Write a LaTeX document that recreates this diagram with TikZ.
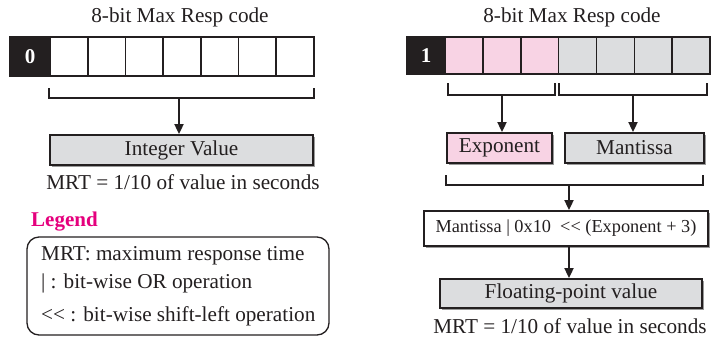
\documentclass[tikz,border=0pt]{standalone}
\usepackage{fontspec}
\setmainfont{Liberation Serif}
\usetikzlibrary{arrows.meta,shadows,calc}
\definecolor{linec}{HTML}{231F20}
\definecolor{pinkf}{HTML}{F8D3E4}
\definecolor{grayf}{HTML}{DCDDDF}
\definecolor{legc}{HTML}{E5007D}
\definecolor{shadc}{HTML}{9A9A9A}
\newcommand{\shl}{{<}{<}}
\tikzset{
  txt/.style={font=\fontsize{21.2}{23}\selectfont, text=linec, inner sep=0pt},
  cellbox/.style={draw=linec, line width=1.6pt, minimum height=39pt, inner sep=0pt},
  blackcell/.style={cellbox, fill=linec, text=white, font=\fontsize{21}{23}\selectfont\bfseries},
  valbox/.style={draw=linec, line width=1.8pt, inner sep=0pt, font=\fontsize{21.2}{23}\selectfont, text=linec,
     general shadow={shadow xshift=2pt, shadow yshift=-2pt, fill=shadc}},
  brk/.style={draw=linec, line width=1.1pt},
  arr/.style={draw=linec, line width=1.8pt, -{Triangle[length=10pt,width=9pt]}},
}
\begin{document}
\begin{tikzpicture}[x=1pt,y=-1pt]
\useasboundingbox (0,0) rectangle (717,338);
% ---------- left ----------
\node[txt] (ltitle) at (180,17) {8-bit Max Resp code};
\node[blackcell, minimum width=40pt, minimum height=39pt] (l0) at (30,56.5) {0};
\foreach \i in {1,...,7} {
  \node[cellbox, fill=white, minimum width=37.71pt] (l\i) at ({50+37.71*(\i-0.5)},56.5) {};
}
\draw[brk] (49,88) -- (49,98) -- (314,98) -- (314,88);
\coordinate (lb) at (179,98.5);
\node[valbox, fill=grayf, minimum width=263pt, minimum height=30pt] (intv) at (181.5,150) {Integer Value};
\draw[arr] (lb) -- (lb |- intv.north);
\node[txt] (lmrt) at (183,182) {MRT = 1/10 of value in seconds};
% legend
\node[txt, anchor=west, text=legc, font=\fontsize{21}{23}\selectfont\bfseries] (leg) at (31,222) {Legend};
\draw[linec, line width=1.3pt, rounded corners=12pt] (27,237) rectangle (329,335);
\node[txt, anchor=west] (lg1) at (41,256) {MRT: maximum response time};
\node[txt, anchor=west] (lg2) at (41,283) {| : bit-wise OR operation};
\node[txt, anchor=west] (lg3) at (41,316) {\shl{} : bit-wise shift-left operation};
% ---------- right ----------
\node[txt] (rtitle) at (572,17) {8-bit Max Resp code};
\node[blackcell, minimum width=38pt, minimum height=37pt] (r0) at (426,55.5) {1};
\foreach \i in {1,2,3} {
  \node[cellbox, fill=pinkf, minimum width=37.86pt, minimum height=37pt] (r\i) at ({445+37.86*(\i-0.5)},55.5) {};
}
\foreach \i in {4,...,7} {
  \node[cellbox, fill=grayf, minimum width=37.86pt, minimum height=37pt] (r\i) at ({445+37.86*(\i-0.5)},55.5) {};
}
\draw[brk] (448,83) -- (448,95) -- (555,95) -- (555,83);
\draw[brk] (559,83) -- (559,95) -- (707,95) -- (707,83);
\coordinate (eb) at (502,95.5);
\coordinate (mb) at (633,95.5);
\node[valbox, fill=pinkf, minimum width=105pt, minimum height=30pt] (expo) at (499.5,148) {Exponent};
\node[valbox, fill=grayf, minimum width=139pt, minimum height=30pt] (mant) at (634.5,148) {Mantissa};
\draw[arr] (eb) -- (eb |- expo.north);
\draw[arr] (mb) -- (mb |- mant.north);
\draw[brk] (446,175) -- (446,185) -- (703,185) -- (703,175);
\coordinate (fb) at (569,185.5);
\node[valbox, fill=white, minimum width=284pt, minimum height=35pt, font=\fontsize{18.3}{20}\selectfont] (form) at (566,228.5) {Mantissa | 0x10\ \ \shl{} (Exponent + 3)};
\draw[arr] (fb) -- (fb |- form.north);
\node[valbox, fill=grayf, minimum width=262pt, minimum height=29pt] (flt) at (571,293.5) {Floating-point value};
\draw[arr] (form.south -| fb) -- (fb |- flt.north);
\node[txt] (rmrt) at (570,326) {MRT = 1/10 of value in seconds};
\end{tikzpicture}
\end{document}
